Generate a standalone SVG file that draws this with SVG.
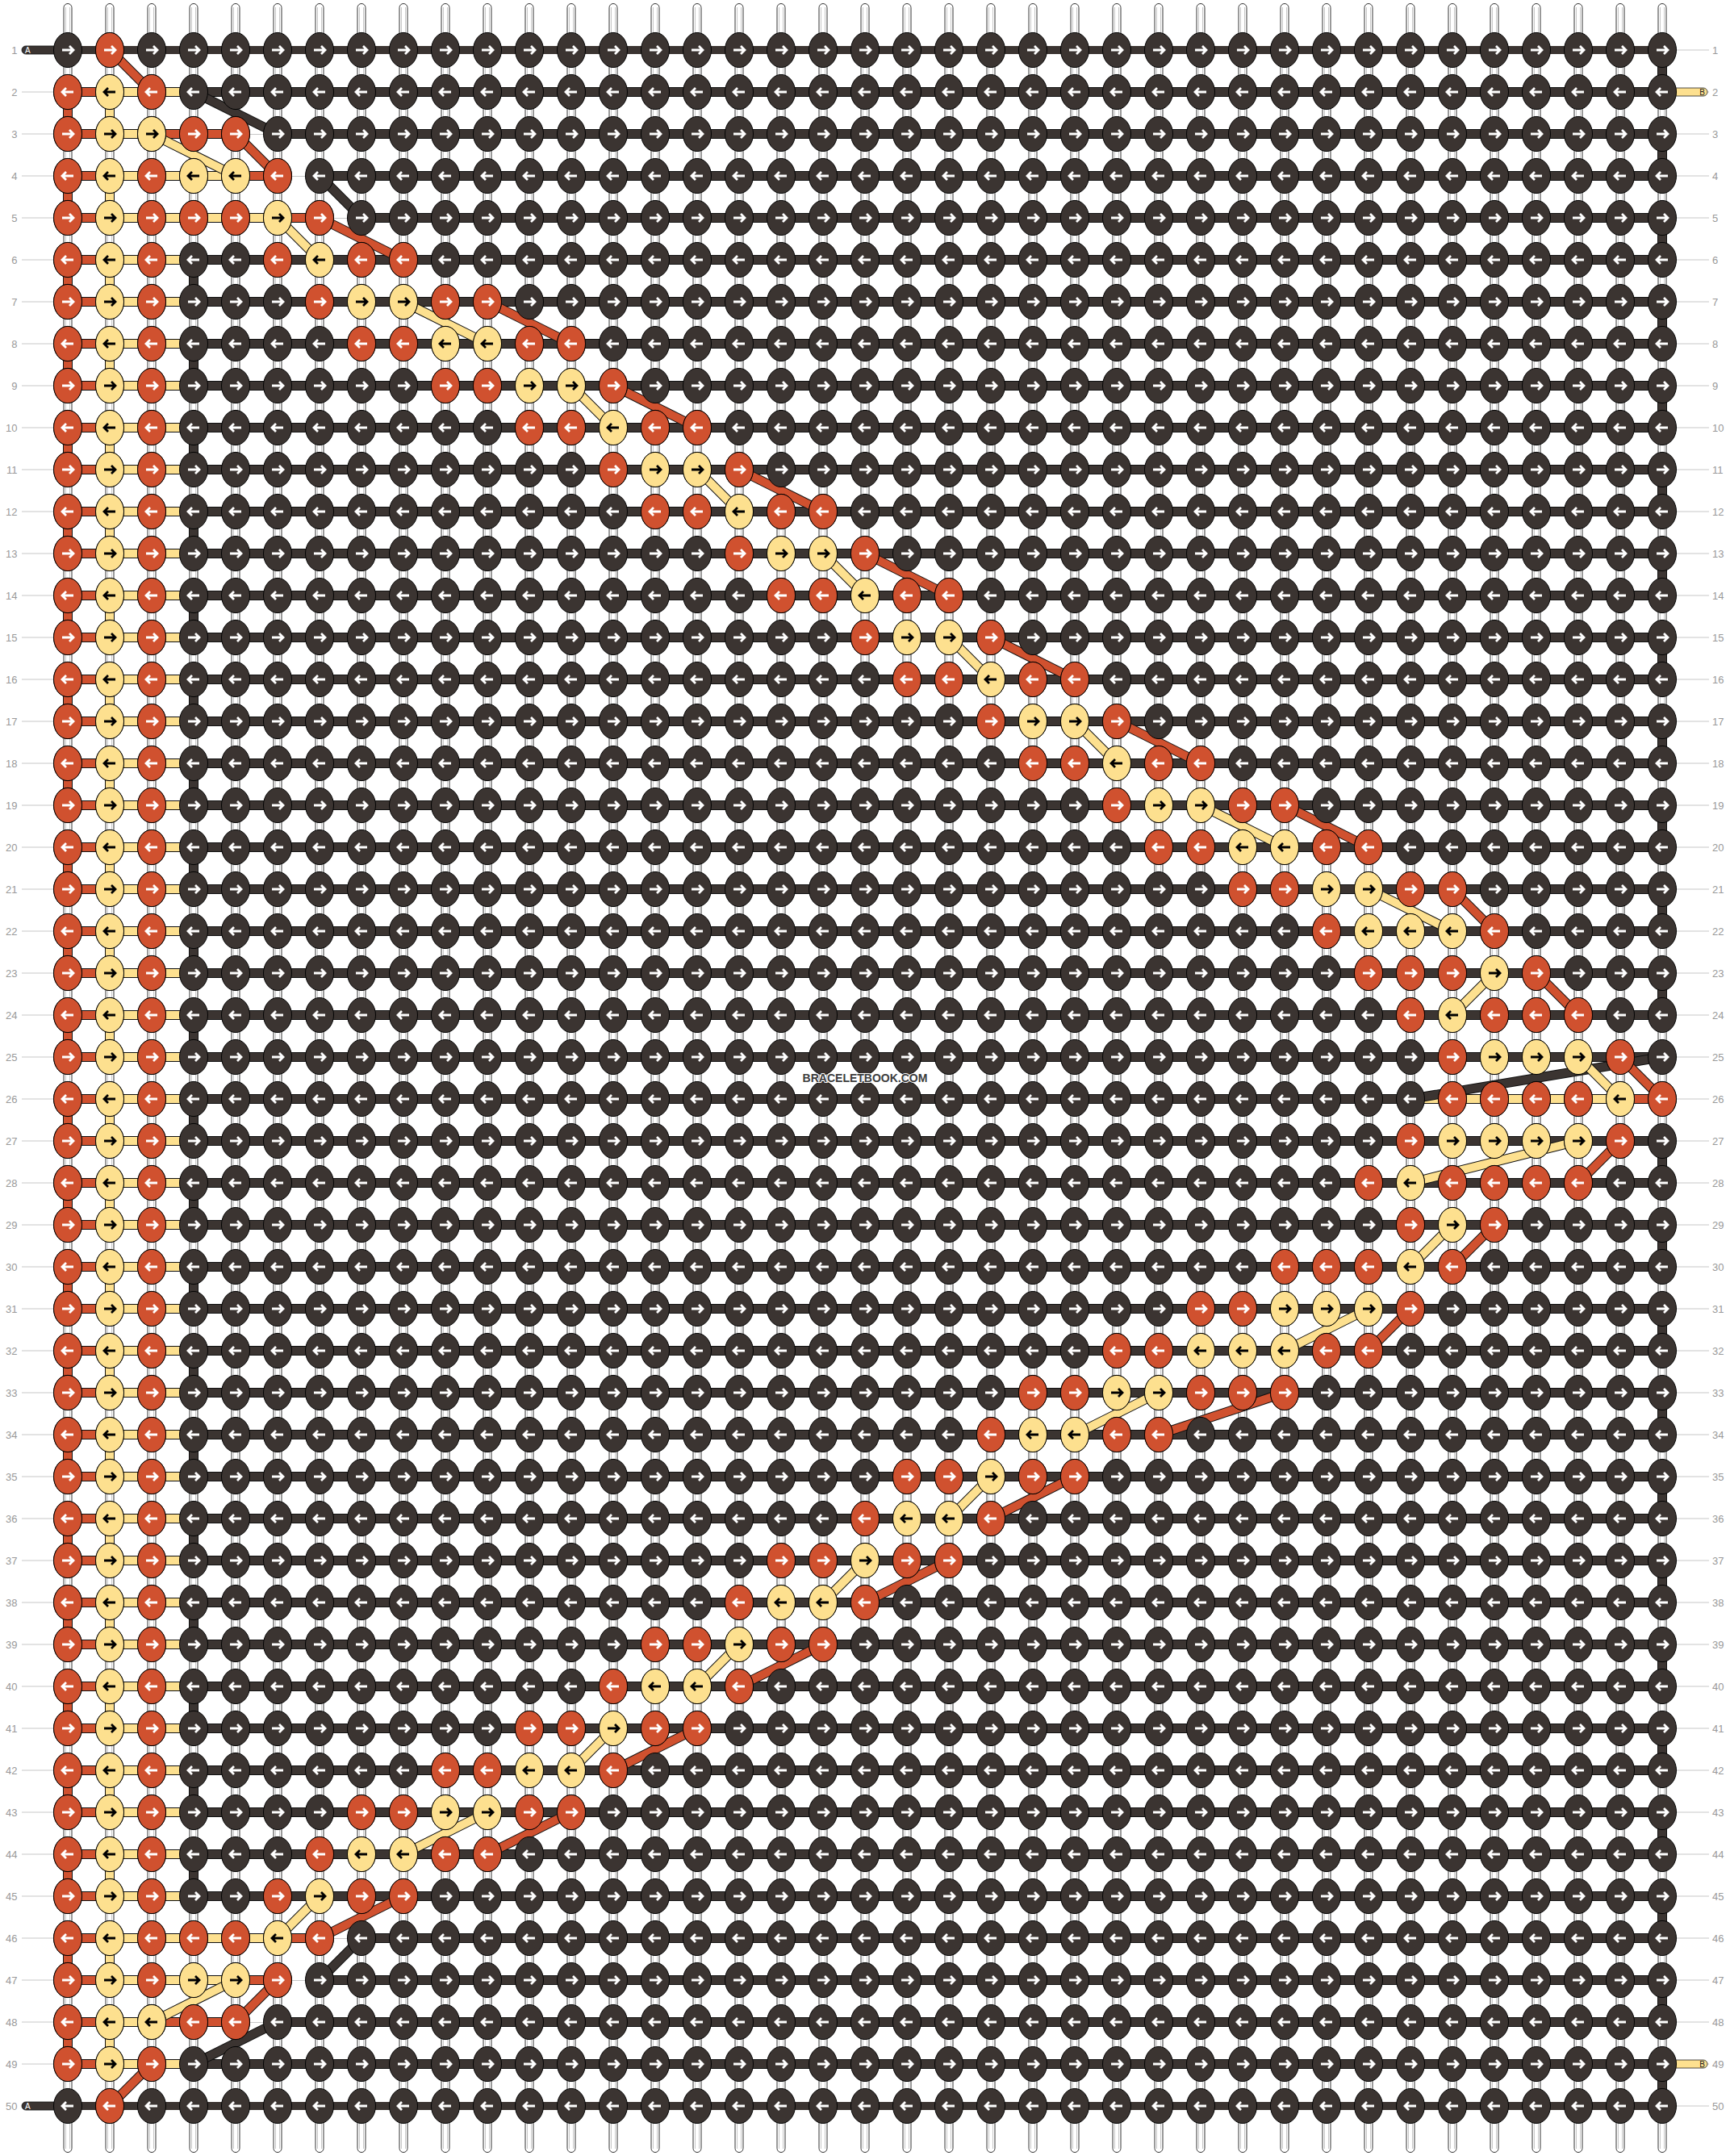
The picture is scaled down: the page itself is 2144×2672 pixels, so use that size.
<svg xmlns="http://www.w3.org/2000/svg" width="2144" height="2672" viewBox="0 0 2144 2672">
<style>
.d{fill:#3b3431;stroke:#000;stroke-width:1}
.r{fill:#d0512f;stroke:#000;stroke-width:1}
.y{fill:#fde08f;stroke:#000;stroke-width:1}
.aw{fill:none;stroke:#fff;stroke-width:2.8}
.ab{fill:none;stroke:#000;stroke-width:2.8}
.lb{font-family:"Liberation Sans",Arial,sans-serif;font-size:13px;fill:#999}
.tag{font-family:"Liberation Sans",Arial,sans-serif;font-size:10px}
</style>
<defs>
<g id="Dr"><ellipse class="d" rx="17.5" ry="21.6"/><path class="aw" d="M-7 0H6.5M2 -5L7 0L2 5"/></g>
<g id="Dl"><ellipse class="d" rx="17.5" ry="21.6"/><path class="aw" d="M7 0H-6.5M-2 -5L-7 0L-2 5"/></g>
<g id="Rr"><ellipse class="r" rx="17.5" ry="21.6"/><path class="aw" d="M-7 0H6.5M2 -5L7 0L2 5"/></g>
<g id="Rl"><ellipse class="r" rx="17.5" ry="21.6"/><path class="aw" d="M7 0H-6.5M-2 -5L-7 0L-2 5"/></g>
<g id="Yr"><ellipse class="y" rx="17.5" ry="21.6"/><path class="ab" d="M-7 0H6.5M2 -5L7 0L2 5"/></g>
<g id="Yl"><ellipse class="y" rx="17.5" ry="21.6"/><path class="ab" d="M7 0H-6.5M-2 -5L-7 0L-2 5"/></g>
<pattern id="pv" patternUnits="userSpaceOnUse" x="58" y="0" width="52" height="2672"><rect x="21" y="4.5" width="10" height="2663" rx="5" fill="#fff" stroke="#333"/><path d="M23.5 9V2663M28.5 9V2663" stroke="#c8c8c8" fill="none"/></pattern>
<pattern id="pk" patternUnits="userSpaceOnUse" x="58" y="36" width="52" height="104"><use href="#Dr" x="26" y="26"/><use href="#Dl" x="26" y="78"/></pattern>
<pattern id="pb" patternUnits="userSpaceOnUse" x="58" y="36" width="156" height="104"><use href="#Rr" x="26" y="26"/><use href="#Yr" x="78" y="26"/><use href="#Rr" x="130" y="26"/><use href="#Rl" x="26" y="78"/><use href="#Yl" x="78" y="78"/><use href="#Rl" x="130" y="78"/></pattern>
<path id="gD" fill="none" d="M240 114L344 166M396 218L448 270M2060 1310L1748 1362M448 2402L396 2454M344 2506L240 2558"/>
<path id="gY" fill="none" d="M188 166L292 218M344 270L396 322M500 374L604 426M708 478L760 530M864 582L916 634M1020 686L1072 738M1176 790L1228 842M1332 894L1384 946M1488 998L1592 1050M1696 1102L1800 1154M1852 1206L1800 1258M1956 1310L2008 1362M1956 1414L1748 1466M1800 1518L1748 1570M1696 1622L1592 1674M1436 1726L1332 1778M1228 1830L1176 1882M1072 1934L1020 1986M916 2038L864 2090M760 2142L708 2194M604 2246L500 2298M396 2350L344 2402M292 2454L188 2506"/>
<path id="gR" fill="none" d="M136 62L188 114M292 166L344 218M396 270L500 322M604 374L708 426M760 478L864 530M916 582L1020 634M1072 686L1176 738M1228 790L1332 842M1384 894L1488 946M1592 998L1696 1050M1800 1102L1852 1154M1904 1206L1956 1258M2008 1310L2060 1362M2008 1414L1956 1466M1852 1518L1800 1570M1748 1622L1696 1674M1592 1726L1436 1778M1332 1830L1228 1882M1176 1934L1072 1986M1020 2038L916 2090M864 2142L760 2194M708 2246L604 2298M500 2350L396 2402M344 2454L292 2506M188 2558L136 2610"/>
<path id="oY" fill="none" d="M240 218H292M240 270H344M1748 1362H2008M240 2402H344M240 2454H292"/>
<path id="oR" fill="none" d="M188 166H292M292 218H344M344 270H396M2008 1362H2060M344 2402H396M292 2454H344M188 2506H292"/>
</defs>
<rect width="2144" height="2672" fill="#fff"/>
<g id="guides">
<line x1="1072.5" y1="61.5" x2="1072.5" y2="2611" stroke="#c8c8c8" stroke-width="2091" stroke-dasharray="1 51"/>
</g>
<g id="strings">
<rect x="58" y="0" width="2028" height="2672" fill="url(#pv)"/>
</g>
<g id="connectors">
<line x1="1072" y1="108" x2="1072" y2="2564" stroke="#111" stroke-width="1976" stroke-dasharray="12 40"/>
<line x1="110" y1="109" x2="110" y2="2563" stroke="#d0512f" stroke-width="52" stroke-dasharray="10 42"/>
<line x1="188" y1="109" x2="188" y2="2563" stroke="#fde08f" stroke-width="104" stroke-dasharray="10 42"/>
<line x1="1150" y1="109" x2="1150" y2="2563" stroke="#3b3431" stroke-width="1820" stroke-dasharray="10 42"/>
<path d="M84 62H2060M84 2610H2060" stroke="#3b3431" stroke-width="10" fill="none"/>
<use href="#oY" stroke="#111" stroke-width="12"/>
<use href="#oY" stroke="#fde08f" stroke-width="10"/>
<use href="#oR" stroke="#111" stroke-width="12"/>
<use href="#oR" stroke="#d0512f" stroke-width="10"/>
<path d="M292 166H344M344 218H396M396 270H448M396 2402H448M344 2454H396M292 2506H344" stroke="#fff" stroke-width="14" fill="none"/>
<path d="M292 166.5H344M344 218.5H396M396 270.5H448M396 2402.5H448M344 2454.5H396M292 2506.5H344" stroke="#c8c8c8" stroke-width="1" fill="none"/>
<g stroke="#111" stroke-width="12" stroke-dasharray="52 52">
<line x1="84" y1="114" x2="84" y2="2558"/>
<line x1="136" y1="114" x2="136" y2="2558"/>
<line x1="240" y1="322" x2="240" y2="2350"/>
<line x1="2060" y1="62" x2="2060" y2="1310"/>
<line x1="2060" y1="1414" x2="2060" y2="2610"/>
</g>
<g stroke-width="10" stroke-dasharray="52 52">
<line x1="84" y1="114" x2="84" y2="2558" stroke="#d0512f"/>
<line x1="136" y1="114" x2="136" y2="2558" stroke="#fde08f"/>
<line x1="240" y1="322" x2="240" y2="2350" stroke="#3b3431"/>
<line x1="2060" y1="62" x2="2060" y2="1310" stroke="#3b3431"/>
<line x1="2060" y1="1414" x2="2060" y2="2610" stroke="#3b3431"/>
</g>
<use href="#gD" stroke="#111" stroke-width="12"/>
<use href="#gD" stroke="#3b3431" stroke-width="10"/>
<use href="#gY" stroke="#111" stroke-width="12"/>
<use href="#gY" stroke="#fde08f" stroke-width="10"/>
<use href="#gR" stroke="#111" stroke-width="12"/>
<use href="#gR" stroke="#d0512f" stroke-width="10"/>
<g id="endA1"><rect x="27" y="57" width="70" height="10" rx="5" fill="#3b3431" stroke="#111" stroke-width="0.8"/><text class="tag" x="31" y="65.5" fill="#fff">A</text></g>
<g id="endA50"><rect x="27" y="2605" width="70" height="10" rx="5" fill="#3b3431" stroke="#111" stroke-width="0.8"/><text class="tag" x="31" y="2613.5" fill="#fff">A</text></g>
<g id="endB2"><rect x="2048" y="109" width="68" height="10" rx="5" fill="#fde08f" stroke="#222" stroke-width="0.8"/><text class="tag" x="2113" y="117.5" fill="#222" text-anchor="end">B</text></g>
<g id="endB49"><rect x="2048" y="2553" width="68" height="10" rx="5" fill="#fde08f" stroke="#222" stroke-width="0.8"/><text class="tag" x="2113" y="2561.5" fill="#222" text-anchor="end">B</text></g>
</g>
<g id="knots">
<rect x="58" y="36" width="2028" height="2600" fill="url(#pk)"/>
<rect x="58" y="88" width="156" height="2496" fill="url(#pb)"/>
<g id="row01"><use href="#Rr" x="136" y="62"/></g>
<g id="row03"><use href="#Yr" x="188" y="166"/><use href="#Rr" x="240" y="166"/><use href="#Rr" x="292" y="166"/></g>
<g id="row04"><use href="#Yl" x="240" y="218"/><use href="#Yl" x="292" y="218"/><use href="#Rl" x="344" y="218"/></g>
<g id="row05"><use href="#Rr" x="240" y="270"/><use href="#Rr" x="292" y="270"/><use href="#Yr" x="344" y="270"/><use href="#Rr" x="396" y="270"/></g>
<g id="row06"><use href="#Rl" x="344" y="322"/><use href="#Yl" x="396" y="322"/><use href="#Rl" x="448" y="322"/><use href="#Rl" x="500" y="322"/></g>
<g id="row07"><use href="#Rr" x="396" y="374"/><use href="#Yr" x="448" y="374"/><use href="#Yr" x="500" y="374"/><use href="#Rr" x="552" y="374"/><use href="#Rr" x="604" y="374"/></g>
<g id="row08"><use href="#Rl" x="448" y="426"/><use href="#Rl" x="500" y="426"/><use href="#Yl" x="552" y="426"/><use href="#Yl" x="604" y="426"/><use href="#Rl" x="656" y="426"/><use href="#Rl" x="708" y="426"/></g>
<g id="row09"><use href="#Rr" x="552" y="478"/><use href="#Rr" x="604" y="478"/><use href="#Yr" x="656" y="478"/><use href="#Yr" x="708" y="478"/><use href="#Rr" x="760" y="478"/></g>
<g id="row10"><use href="#Rl" x="656" y="530"/><use href="#Rl" x="708" y="530"/><use href="#Yl" x="760" y="530"/><use href="#Rl" x="812" y="530"/><use href="#Rl" x="864" y="530"/></g>
<g id="row11"><use href="#Rr" x="760" y="582"/><use href="#Yr" x="812" y="582"/><use href="#Yr" x="864" y="582"/><use href="#Rr" x="916" y="582"/></g>
<g id="row12"><use href="#Rl" x="812" y="634"/><use href="#Rl" x="864" y="634"/><use href="#Yl" x="916" y="634"/><use href="#Rl" x="968" y="634"/><use href="#Rl" x="1020" y="634"/></g>
<g id="row13"><use href="#Rr" x="916" y="686"/><use href="#Yr" x="968" y="686"/><use href="#Yr" x="1020" y="686"/><use href="#Rr" x="1072" y="686"/></g>
<g id="row14"><use href="#Rl" x="968" y="738"/><use href="#Rl" x="1020" y="738"/><use href="#Yl" x="1072" y="738"/><use href="#Rl" x="1124" y="738"/><use href="#Rl" x="1176" y="738"/></g>
<g id="row15"><use href="#Rr" x="1072" y="790"/><use href="#Yr" x="1124" y="790"/><use href="#Yr" x="1176" y="790"/><use href="#Rr" x="1228" y="790"/></g>
<g id="row16"><use href="#Rl" x="1124" y="842"/><use href="#Rl" x="1176" y="842"/><use href="#Yl" x="1228" y="842"/><use href="#Rl" x="1280" y="842"/><use href="#Rl" x="1332" y="842"/></g>
<g id="row17"><use href="#Rr" x="1228" y="894"/><use href="#Yr" x="1280" y="894"/><use href="#Yr" x="1332" y="894"/><use href="#Rr" x="1384" y="894"/></g>
<g id="row18"><use href="#Rl" x="1280" y="946"/><use href="#Rl" x="1332" y="946"/><use href="#Yl" x="1384" y="946"/><use href="#Rl" x="1436" y="946"/><use href="#Rl" x="1488" y="946"/></g>
<g id="row19"><use href="#Rr" x="1384" y="998"/><use href="#Yr" x="1436" y="998"/><use href="#Yr" x="1488" y="998"/><use href="#Rr" x="1540" y="998"/><use href="#Rr" x="1592" y="998"/></g>
<g id="row20"><use href="#Rl" x="1436" y="1050"/><use href="#Rl" x="1488" y="1050"/><use href="#Yl" x="1540" y="1050"/><use href="#Yl" x="1592" y="1050"/><use href="#Rl" x="1644" y="1050"/><use href="#Rl" x="1696" y="1050"/></g>
<g id="row21"><use href="#Rr" x="1540" y="1102"/><use href="#Rr" x="1592" y="1102"/><use href="#Yr" x="1644" y="1102"/><use href="#Yr" x="1696" y="1102"/><use href="#Rr" x="1748" y="1102"/><use href="#Rr" x="1800" y="1102"/></g>
<g id="row22"><use href="#Rl" x="1644" y="1154"/><use href="#Yl" x="1696" y="1154"/><use href="#Yl" x="1748" y="1154"/><use href="#Yl" x="1800" y="1154"/><use href="#Rl" x="1852" y="1154"/></g>
<g id="row23"><use href="#Rr" x="1696" y="1206"/><use href="#Rr" x="1748" y="1206"/><use href="#Rr" x="1800" y="1206"/><use href="#Yr" x="1852" y="1206"/><use href="#Rr" x="1904" y="1206"/></g>
<g id="row24"><use href="#Rl" x="1748" y="1258"/><use href="#Yl" x="1800" y="1258"/><use href="#Rl" x="1852" y="1258"/><use href="#Rl" x="1904" y="1258"/><use href="#Rl" x="1956" y="1258"/></g>
<g id="row25"><use href="#Rr" x="1800" y="1310"/><use href="#Yr" x="1852" y="1310"/><use href="#Yr" x="1904" y="1310"/><use href="#Yr" x="1956" y="1310"/><use href="#Rr" x="2008" y="1310"/></g>
<g id="row26"><use href="#Rl" x="1800" y="1362"/><use href="#Rl" x="1852" y="1362"/><use href="#Rl" x="1904" y="1362"/><use href="#Rl" x="1956" y="1362"/><use href="#Yl" x="2008" y="1362"/><use href="#Rl" x="2060" y="1362"/></g>
<g id="row27"><use href="#Rr" x="1748" y="1414"/><use href="#Yr" x="1800" y="1414"/><use href="#Yr" x="1852" y="1414"/><use href="#Yr" x="1904" y="1414"/><use href="#Yr" x="1956" y="1414"/><use href="#Rr" x="2008" y="1414"/></g>
<g id="row28"><use href="#Rl" x="1696" y="1466"/><use href="#Yl" x="1748" y="1466"/><use href="#Rl" x="1800" y="1466"/><use href="#Rl" x="1852" y="1466"/><use href="#Rl" x="1904" y="1466"/><use href="#Rl" x="1956" y="1466"/></g>
<g id="row29"><use href="#Rr" x="1748" y="1518"/><use href="#Yr" x="1800" y="1518"/><use href="#Rr" x="1852" y="1518"/></g>
<g id="row30"><use href="#Rl" x="1592" y="1570"/><use href="#Rl" x="1644" y="1570"/><use href="#Rl" x="1696" y="1570"/><use href="#Yl" x="1748" y="1570"/><use href="#Rl" x="1800" y="1570"/></g>
<g id="row31"><use href="#Rr" x="1488" y="1622"/><use href="#Rr" x="1540" y="1622"/><use href="#Yr" x="1592" y="1622"/><use href="#Yr" x="1644" y="1622"/><use href="#Yr" x="1696" y="1622"/><use href="#Rr" x="1748" y="1622"/></g>
<g id="row32"><use href="#Rl" x="1384" y="1674"/><use href="#Rl" x="1436" y="1674"/><use href="#Yl" x="1488" y="1674"/><use href="#Yl" x="1540" y="1674"/><use href="#Yl" x="1592" y="1674"/><use href="#Rl" x="1644" y="1674"/><use href="#Rl" x="1696" y="1674"/></g>
<g id="row33"><use href="#Rr" x="1280" y="1726"/><use href="#Rr" x="1332" y="1726"/><use href="#Yr" x="1384" y="1726"/><use href="#Yr" x="1436" y="1726"/><use href="#Rr" x="1488" y="1726"/><use href="#Rr" x="1540" y="1726"/><use href="#Rr" x="1592" y="1726"/></g>
<g id="row34"><use href="#Rl" x="1228" y="1778"/><use href="#Yl" x="1280" y="1778"/><use href="#Yl" x="1332" y="1778"/><use href="#Rl" x="1384" y="1778"/><use href="#Rl" x="1436" y="1778"/></g>
<g id="row35"><use href="#Rr" x="1124" y="1830"/><use href="#Rr" x="1176" y="1830"/><use href="#Yr" x="1228" y="1830"/><use href="#Rr" x="1280" y="1830"/><use href="#Rr" x="1332" y="1830"/></g>
<g id="row36"><use href="#Rl" x="1072" y="1882"/><use href="#Yl" x="1124" y="1882"/><use href="#Yl" x="1176" y="1882"/><use href="#Rl" x="1228" y="1882"/></g>
<g id="row37"><use href="#Rr" x="968" y="1934"/><use href="#Rr" x="1020" y="1934"/><use href="#Yr" x="1072" y="1934"/><use href="#Rr" x="1124" y="1934"/><use href="#Rr" x="1176" y="1934"/></g>
<g id="row38"><use href="#Rl" x="916" y="1986"/><use href="#Yl" x="968" y="1986"/><use href="#Yl" x="1020" y="1986"/><use href="#Rl" x="1072" y="1986"/></g>
<g id="row39"><use href="#Rr" x="812" y="2038"/><use href="#Rr" x="864" y="2038"/><use href="#Yr" x="916" y="2038"/><use href="#Rr" x="968" y="2038"/><use href="#Rr" x="1020" y="2038"/></g>
<g id="row40"><use href="#Rl" x="760" y="2090"/><use href="#Yl" x="812" y="2090"/><use href="#Yl" x="864" y="2090"/><use href="#Rl" x="916" y="2090"/></g>
<g id="row41"><use href="#Rr" x="656" y="2142"/><use href="#Rr" x="708" y="2142"/><use href="#Yr" x="760" y="2142"/><use href="#Rr" x="812" y="2142"/><use href="#Rr" x="864" y="2142"/></g>
<g id="row42"><use href="#Rl" x="552" y="2194"/><use href="#Rl" x="604" y="2194"/><use href="#Yl" x="656" y="2194"/><use href="#Yl" x="708" y="2194"/><use href="#Rl" x="760" y="2194"/></g>
<g id="row43"><use href="#Rr" x="448" y="2246"/><use href="#Rr" x="500" y="2246"/><use href="#Yr" x="552" y="2246"/><use href="#Yr" x="604" y="2246"/><use href="#Rr" x="656" y="2246"/><use href="#Rr" x="708" y="2246"/></g>
<g id="row44"><use href="#Rl" x="396" y="2298"/><use href="#Yl" x="448" y="2298"/><use href="#Yl" x="500" y="2298"/><use href="#Rl" x="552" y="2298"/><use href="#Rl" x="604" y="2298"/></g>
<g id="row45"><use href="#Rr" x="344" y="2350"/><use href="#Yr" x="396" y="2350"/><use href="#Rr" x="448" y="2350"/><use href="#Rr" x="500" y="2350"/></g>
<g id="row46"><use href="#Rl" x="240" y="2402"/><use href="#Rl" x="292" y="2402"/><use href="#Yl" x="344" y="2402"/><use href="#Rl" x="396" y="2402"/></g>
<g id="row47"><use href="#Yr" x="240" y="2454"/><use href="#Yr" x="292" y="2454"/><use href="#Rr" x="344" y="2454"/></g>
<g id="row48"><use href="#Yl" x="188" y="2506"/><use href="#Rl" x="240" y="2506"/><use href="#Rl" x="292" y="2506"/></g>
<g id="row50"><use href="#Rl" x="136" y="2610"/></g>
</g>
<g id="labels" class="lb" transform="translate(0,4.5)">
<g text-anchor="end">
<text x="21.5" y="62">1</text><text x="21.5" y="114">2</text><text x="21.5" y="166">3</text><text x="21.5" y="218">4</text><text x="21.5" y="270">5</text><text x="21.5" y="322">6</text><text x="21.5" y="374">7</text><text x="21.5" y="426">8</text><text x="21.5" y="478">9</text><text x="21.5" y="530">10</text>
<text x="21.5" y="582">11</text><text x="21.5" y="634">12</text><text x="21.5" y="686">13</text><text x="21.5" y="738">14</text><text x="21.5" y="790">15</text><text x="21.5" y="842">16</text><text x="21.5" y="894">17</text><text x="21.5" y="946">18</text><text x="21.5" y="998">19</text><text x="21.5" y="1050">20</text>
<text x="21.5" y="1102">21</text><text x="21.5" y="1154">22</text><text x="21.5" y="1206">23</text><text x="21.5" y="1258">24</text><text x="21.5" y="1310">25</text><text x="21.5" y="1362">26</text><text x="21.5" y="1414">27</text><text x="21.5" y="1466">28</text><text x="21.5" y="1518">29</text><text x="21.5" y="1570">30</text>
<text x="21.5" y="1622">31</text><text x="21.5" y="1674">32</text><text x="21.5" y="1726">33</text><text x="21.5" y="1778">34</text><text x="21.5" y="1830">35</text><text x="21.5" y="1882">36</text><text x="21.5" y="1934">37</text><text x="21.5" y="1986">38</text><text x="21.5" y="2038">39</text><text x="21.5" y="2090">40</text>
<text x="21.5" y="2142">41</text><text x="21.5" y="2194">42</text><text x="21.5" y="2246">43</text><text x="21.5" y="2298">44</text><text x="21.5" y="2350">45</text><text x="21.5" y="2402">46</text><text x="21.5" y="2454">47</text><text x="21.5" y="2506">48</text><text x="21.5" y="2558">49</text><text x="21.5" y="2610">50</text>
</g>
<g>
<text x="2122" y="62">1</text><text x="2122" y="114">2</text><text x="2122" y="166">3</text><text x="2122" y="218">4</text><text x="2122" y="270">5</text><text x="2122" y="322">6</text><text x="2122" y="374">7</text><text x="2122" y="426">8</text><text x="2122" y="478">9</text><text x="2122" y="530">10</text>
<text x="2122" y="582">11</text><text x="2122" y="634">12</text><text x="2122" y="686">13</text><text x="2122" y="738">14</text><text x="2122" y="790">15</text><text x="2122" y="842">16</text><text x="2122" y="894">17</text><text x="2122" y="946">18</text><text x="2122" y="998">19</text><text x="2122" y="1050">20</text>
<text x="2122" y="1102">21</text><text x="2122" y="1154">22</text><text x="2122" y="1206">23</text><text x="2122" y="1258">24</text><text x="2122" y="1310">25</text><text x="2122" y="1362">26</text><text x="2122" y="1414">27</text><text x="2122" y="1466">28</text><text x="2122" y="1518">29</text><text x="2122" y="1570">30</text>
<text x="2122" y="1622">31</text><text x="2122" y="1674">32</text><text x="2122" y="1726">33</text><text x="2122" y="1778">34</text><text x="2122" y="1830">35</text><text x="2122" y="1882">36</text><text x="2122" y="1934">37</text><text x="2122" y="1986">38</text><text x="2122" y="2038">39</text><text x="2122" y="2090">40</text>
<text x="2122" y="2142">41</text><text x="2122" y="2194">42</text><text x="2122" y="2246">43</text><text x="2122" y="2298">44</text><text x="2122" y="2350">45</text><text x="2122" y="2402">46</text><text x="2122" y="2454">47</text><text x="2122" y="2506">48</text><text x="2122" y="2558">49</text><text x="2122" y="2610">50</text>
</g>
</g>
<text id="watermark" x="1072" y="1341" text-anchor="middle" font-family="Liberation Sans, Arial, sans-serif" font-weight="bold" font-size="14" fill="#3c3c3c" stroke="#fff" stroke-width="2" paint-order="stroke">BRACELETBOOK.COM</text>
</svg>
